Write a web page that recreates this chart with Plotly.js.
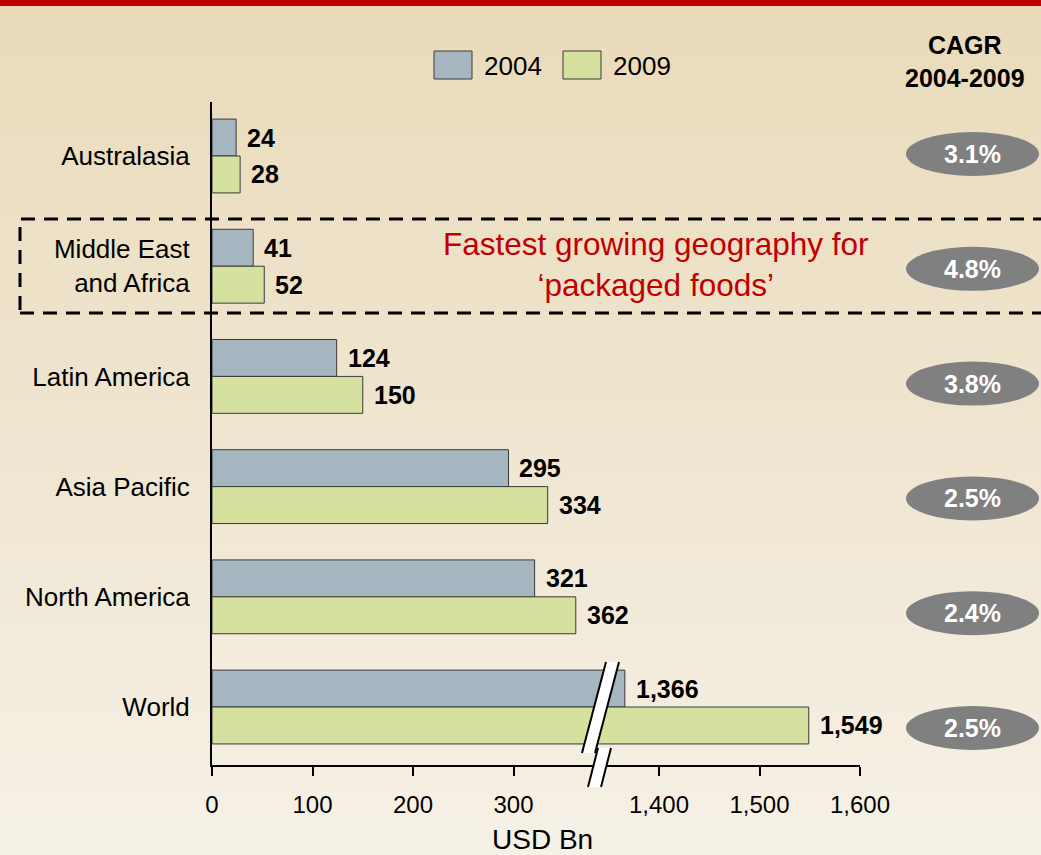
<!DOCTYPE html>
<html><head><meta charset="utf-8">
<script src="https://cdn.plot.ly/plotly-3.0.1.min.js"></script>
<style>
html,body{margin:0;padding:0;}
body{background:linear-gradient(to bottom,#E9DABA 0%,#EEE3CB 40%,#F6F1E7 100%);width:1041px;height:855px;overflow:hidden}
#chart{width:1041px;height:855px}
</style></head><body><div id="chart"></div>
<script>
// ---- data ----
const regions = ["Australasia", "Middle East<br>and Africa", "Latin America", "Asia Pacific", "North America", "World"];
const seriesNames = ["2004", "2009"];
const values2004 = [24, 41, 124, 295, 321, 1366];
const values2009 = [28, 52, 150, 334, 362, 1549];
const cagrLabels = ["3.1%", "4.8%", "3.8%", "2.5%", "2.4%", "2.5%"];
const tickValsLow = [0, 100, 200, 300];
const tickTextLow = ["0", "100", "200", "300"];
const tickValsHigh = [1400, 1500, 1600];
const tickTextHigh = ["1,400", "1,500", "1,600"];
const xTitle = "USD Bn";
const cagrTitle = "CAGR<br>2004-2009";
const callout = "Fastest growing geography for<br>\u2018packaged foods\u2019";

// ---- styling ----
const colors = ["#A6B6C0", "#D6E1A0"];
const FONT = "Liberation Sans, Arial, sans-serif";
const W = 1041, H = 855;
const L = 212, R = 860, T = 102, B = 765;
const PW = R - L, PH = B - T;
const px = x => (x - L) / PW;
const py = y => (B - y) / PH;
const splitPx = 600;
const dSplit = px(splitPx);
const k = 1.005;
const lowMax = (splitPx - L) / k;
const highMin = 1400 - (659 - splitPx) / k;
const bargap = 0.33;

const allSeries = [values2004, values2009];
const traces = [];
["x", "x2"].forEach(xa => {
  allSeries.forEach((vals, s) => {
    traces.push({
      type: "bar", orientation: "h",
      x: vals, y: regions, name: seriesNames[s],
      xaxis: xa, yaxis: "y",
      marker: {color: colors[s], line: {color: "#3a3a3a", width: 1}},
      showlegend: false, hoverinfo: "skip"
    });
  });
});

const annotations = [];
const half = (1 - bargap) / 4;
allSeries.forEach((vals, s) => {
  vals.forEach((v, i) => {
    annotations.push({
      xref: v > lowMax ? "x2" : "x", yref: "y",
      x: v, y: i + (s === 0 ? -half : half),
      text: v.toLocaleString("en-US"), showarrow: false,
      xanchor: "left", yanchor: "middle", xshift: 9,
      font: {family: FONT, size: 25, color: "#000", weight: "bold"}
    });
  });
});

const shapes = [];
// top red bar
shapes.push({type: "rect", xref: "paper", yref: "paper", x0: px(-5), x1: px(W + 5), y0: py(0), y1: py(6),
  fillcolor: "#C00000", line: {width: 0}, layer: "above"});

// CAGR ellipses
cagrLabels.forEach((c, i) => {
  const cy = 154 + i * 114.8;
  shapes.push({type: "circle", xref: "paper", yref: "paper", x0: px(906), x1: px(1039), y0: py(cy + 22), y1: py(cy - 22),
    fillcolor: "#808080", line: {width: 0}});
  annotations.push({xref: "paper", yref: "paper", x: px(972.5), y: py(cy), text: c, showarrow: false,
    xanchor: "center", yanchor: "middle", font: {family: FONT, size: 25, color: "#fff", weight: "bold"}});
});
annotations.push({xref: "paper", yref: "paper", x: px(965), y: py(61.5), text: cagrTitle, showarrow: false,
  xanchor: "center", yanchor: "middle", font: {family: FONT, size: 25, color: "#000", weight: "bold"}});

// callout
annotations.push({xref: "paper", yref: "paper", x: px(655), y: py(264), text: callout, showarrow: false,
  xanchor: "center", yanchor: "middle", font: {family: FONT, size: 31.5, color: "#C00000"}});
// dashed box around highlighted region
shapes.push({type: "rect", xref: "paper", yref: "paper", x0: px(20), x1: px(1050), y0: py(313), y1: py(219),
  fillcolor: "rgba(0,0,0,0)", line: {color: "#000", width: 3, dash: "14px,9px"}, layer: "above"});

// legend
const legX = [434, 563];
seriesNames.forEach((n, s) => {
  shapes.push({type: "rect", xref: "paper", yref: "paper", x0: px(legX[s]), x1: px(legX[s] + 38), y0: py(79), y1: py(51),
    fillcolor: colors[s], line: {color: "#3a3a3a", width: 1}});
  annotations.push({xref: "paper", yref: "paper", x: px(legX[s] + 48), y: py(66), text: n, showarrow: false,
    xanchor: "left", yanchor: "middle", font: {family: FONT, size: 26, color: "#000"}});
});

// axis break marks
function stripe(pts) {
  const p = pts.map(q => [px(q[0]), py(q[1])]);
  shapes.push({type: "path", xref: "paper", yref: "paper",
    path: `M${p[0][0]},${p[0][1]} L${p[1][0]},${p[1][1]} L${p[2][0]},${p[2][1]} L${p[3][0]},${p[3][1]} Z`,
    fillcolor: "#ffffff", line: {width: 0}, layer: "above"});
  [[0, 1], [3, 2]].forEach(e => {
    shapes.push({type: "line", xref: "paper", yref: "paper",
      x0: p[e[0]][0], y0: p[e[0]][1], x1: p[e[1]][0], y1: p[e[1]][1],
      line: {color: "#000", width: 2}, layer: "above"});
  });
}
stripe([[582, 753], [606, 662], [619, 662], [595, 753]]);
stripe([[588, 787], [598, 748], [611, 748], [601, 787]]);

const axisCommon = {
  showgrid: false, zeroline: false, showline: true, linecolor: "#000", linewidth: 2,
  ticks: "outside", ticklen: 9, tickwidth: 2, tickcolor: "#000", ticklabelstandoff: 8,
  tickfont: {family: FONT, size: 24, color: "#000"}, tickmode: "array", fixedrange: true
};

const layout = {
  width: W, height: H,
  margin: {l: L, r: W - R, t: T, b: H - B, autoexpand: false},
  paper_bgcolor: "rgba(0,0,0,0)", plot_bgcolor: "rgba(0,0,0,0)",
  barmode: "group", bargap: bargap, bargroupgap: 0,
  showlegend: false, hovermode: false,
  font: {family: FONT, color: "#000"},
  xaxis: Object.assign({}, axisCommon, {domain: [0, dSplit], range: [0, lowMax], anchor: "y",
    tickvals: tickValsLow, ticktext: tickTextLow}),
  xaxis2: Object.assign({}, axisCommon, {domain: [dSplit, 1], range: [highMin, 1600], anchor: "y",
    tickvals: tickValsHigh, ticktext: tickTextHigh}),
  yaxis: {type: "category", categoryorder: "array", categoryarray: regions, range: [5.526, -0.49],
    showgrid: false, zeroline: false, showline: true, linecolor: "#000", linewidth: 2,
    ticks: "outside", ticklen: 15, tickcolor: "rgba(0,0,0,0)",
    tickfont: {family: FONT, size: 26, color: "#000"}, fixedrange: true},
  annotations: annotations.concat([{xref: "paper", yref: "paper", x: px(542), y: py(839), text: xTitle,
    showarrow: false, xanchor: "center", yanchor: "middle", font: {family: FONT, size: 28, color: "#000"}}]),
  shapes: shapes
};

Plotly.newPlot("chart", traces, layout, {staticPlot: true, displayModeBar: false});
</script></body></html>
